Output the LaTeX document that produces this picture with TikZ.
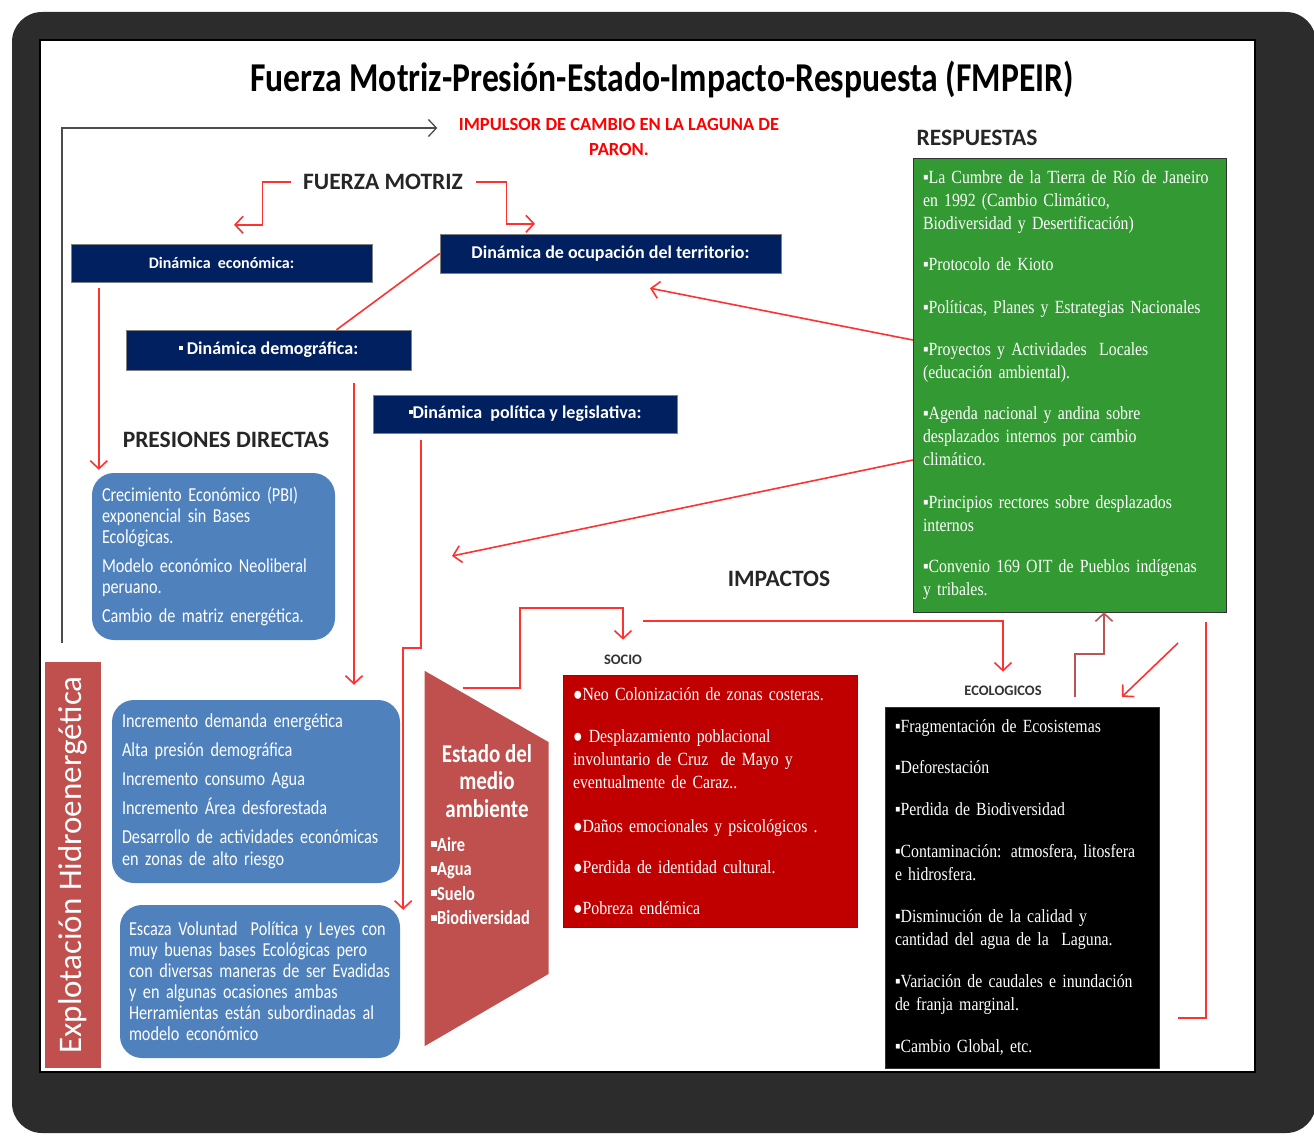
\documentclass[tikz,border=0pt]{standalone}
\usepackage{fontspec}
\usepackage{graphicx}
\setmainfont[FakeStretch=0.85]{Liberation Serif}
\newfontfamily\calib{Carlito}
\newfontfamily\calibn[FakeStretch=0.82]{Carlito}
\usetikzlibrary{arrows.meta}
\hyphenpenalty=10000
\exhyphenpenalty=10000

\definecolor{navy}{RGB}{0,32,96}
\definecolor{ofblue}{RGB}{79,129,189}
\definecolor{ofred}{RGB}{192,80,77}
\definecolor{socred}{RGB}{192,0,0}
\definecolor{resgreen}{RGB}{51,153,51}
\definecolor{linered}{RGB}{255,50,50}
\definecolor{linebrown}{RGB}{185,85,85}
\definecolor{framegray}{RGB}{44,44,44}

\newcommand{\sqb}{\rule[.2em]{.3em}{.3em}}
\newcommand{\dotb}{\rule[.25em]{.22em}{.22em}}

\tikzset{
	navybox/.style={fill=navy, draw=black!50, text=white, inner sep=0pt, font=\calib\bfseries\fontsize{18}{20}\selectfont},
	bluebox/.style={fill=ofblue, rounded corners=22pt, text=white, align=left, inner xsep=10pt, inner ysep=0pt, font=\calibn\fontsize{19.8}{21}\selectfont},
	serifbox/.style={draw=black!80, text=white, align=left, inner ysep=0pt, font=\fontsize{18.6}{23}\selectfont},
	heading/.style={text=black!85, font=\calib\bfseries\fontsize{23.5}{25}\selectfont},
	subhead/.style={text=black!80, font=\calib\bfseries\fontsize{14.5}{16}\selectfont},
	redline/.style={draw=linered, line width=1.6pt},
	redarrow/.style={redline, -{Straight Barb[length=8pt,width=17pt]}},
	brownarrow/.style={draw=linebrown, line width=1.6pt, -{Straight Barb[length=8pt,width=17pt]}},
	blackarrow/.style={draw=black!70, line width=1.3pt, -{Straight Barb[length=8pt,width=17pt]}},
}

\begin{document}
\begin{tikzpicture}[x=1pt,y=-1pt]
	\useasboundingbox (0,0) rectangle (1314,1137);
	\fill[framegray, rounded corners=30pt] (12,12) rectangle (1316,1133);
	\filldraw[fill=white, draw=black, line width=1.5pt] (40,40) rectangle (1255,1072);

	\node[font=\calibn\bfseries\fontsize{41}{44}\selectfont] (title) at (662,80) {Fuerza Motriz-Presión-Estado-Impacto-Respuesta (FMPEIR)};
	\node[text=red, align=center, font=\calib\bfseries\fontsize{18.5}{25}\selectfont] (impulsor) at (619,137) {IMPULSOR DE CAMBIO EN LA LAGUNA DE\\PARON.};

	\node[heading] (fm) at (383,182) {FUERZA MOTRIZ};
	\node[heading] (presdir) at (226,440) {PRESIONES DIRECTAS};
	\node[heading] (resp) at (977,138) {RESPUESTAS};
	\node[heading] (impact) at (779,579) {IMPACTOS};
	\node[subhead] (socio) at (623,660) {SOCIO};
	\node[subhead] (eco) at (1003,691) {ECOLOGICOS};

	\node[navybox, font=\calib\bfseries\fontsize{16}{18}\selectfont, minimum width=301pt, minimum height=38pt] (econ) at (221.5,263) {Dinámica\ \ económica:};
	\node[navybox, minimum width=341pt, minimum height=39pt] (ocup) at (610.5,253.5) {Dinámica de ocupación del territorio:};
	\node[navybox, minimum width=285pt, minimum height=40pt] (demo) at (268.5,350) {\dotb\ Dinámica demográfica:};
	\node[navybox, minimum width=304pt, minimum height=38pt] (poli) at (525,414) {\dotb Dinámica\ \ política y legislativa:};

	\node[bluebox, text width=223pt, minimum height=167pt] (pres1) at (213.5,556.5) {Crecimiento Económico (PBI)\\exponencial sin Bases\\Ecológicas.\\[8pt]Modelo económico Neoliberal\\peruano.\\[8pt]Cambio de matriz energética.};
	\node[bluebox, text width=268pt, minimum height=183pt, font=\calibn\fontsize{19.8}{22}\selectfont] (pres2) at (256,791.5) {Incremento demanda energética\\[7pt]Alta presión demográfica\\[7pt]Incremento consumo Agua\\[7pt]Incremento Área desforestada\\[7pt]Desarrollo de actividades económicas\\en zonas de alto riesgo};
	\node[bluebox, text width=262pt, inner xsep=9pt, minimum height=153pt] (pres3) at (260,981.5) {Escaza Voluntad\ \ Política\ y Leyes con\\muy buenas bases Ecológicas pero\\con diversas maneras de ser Evadidas\\y en algunas ocasiones ambas\\Herramientas están subordinadas al\\modelo económico};

	\node[fill=ofred, text=white, rotate=90, minimum width=406pt, minimum height=56pt, inner sep=0pt, font=\calib\fontsize{33}{35}\selectfont] (expl) at (72.5,865) {Explotación Hidroenergética};

	\filldraw[fill=ofred, draw=white, line width=3pt] (423,668) -- (550,741) -- (550,975) -- (423,1049) -- cycle;
	\node[text=white, align=center, font=\calibn\bfseries\fontsize{25.6}{27.5}\selectfont] (estado) at (487,781) {Estado del\\medio\\ambiente};
	\node[text=white, align=left, anchor=west, inner sep=0pt, font=\calibn\bfseries\fontsize{20}{24.5}\selectfont] (medios) at (431,881) {\sqb Aire\\\sqb Agua\\\sqb Suelo\\\sqb Biodiversidad};

	\node[serifbox, fill=socred, text width=274pt, inner xsep=10pt, minimum height=252pt] (sociobox) at (710,801) {●Neo Colonización de zonas costeras.\\[19pt]● Desplazamiento poblacional\\involuntario de Cruz\ \ de Mayo y\\eventualmente de Caraz..\\[21pt]●Daños emocionales y psicológicos\ .\\[18pt]●Perdida de identidad cultural.\\[18pt]●Pobreza endémica};
	\node[serifbox, fill=black, text width=254pt, inner xsep=10pt, minimum height=361pt] (ecobox) at (1022,887.5) {▪Fragmentación de Ecosistemas\\[18pt]▪Deforestación\\[19pt]▪Perdida de Biodiversidad\\[19pt]▪Contaminación: atmosfera, litosfera\\e hidrosfera.\\[19pt]▪Disminución de la calidad y\\cantidad del agua de la\ \ Laguna.\\[19pt]▪Variación de caudales e inundación\\de franja marginal.\\[19pt]▪Cambio Global, etc.};
	\node[serifbox, fill=resgreen, text width=293pt, inner xsep=10pt, minimum height=454pt] (respbox) at (1069.5,385) {▪La Cumbre de la Tierra de Río de Janeiro\\en 1992 (Cambio Climático,\\Biodiversidad y Desertificación)\\[18pt]▪Protocolo de Kioto\\[20pt]▪Políticas, Planes y Estrategias Nacionales\\[19pt]▪Proyectos y Actividades\ \ Locales\\(educación ambiental).\\[18pt]▪Agenda nacional y andina sobre\\desplazados internos por cambio\\climático.\\[20pt]▪Principios rectores sobre desplazados\\internos\\[18pt]▪Convenio 169 OIT de Pueblos indígenas\\y tribales.};

	\coordinate (econtip) at ([xshift=12.5pt,yshift=19pt]econ.north);
	\coordinate (ocuptip) at ([xshift=-75.5pt,yshift=10pt]ocup.north);
	\coordinate (econdrop) at ([xshift=28pt]econ.south west);
	\coordinate (demodrop) at ([xshift=85.5pt]demo.south);
	\coordinate (polidrop) at ([xshift=48pt]poli.south west);
	\coordinate (politip) at ([xshift=3pt,yshift=-5pt]pres3.north east);
	\coordinate (estadoedge) at (463,688);
	\coordinate (impactsplit) at (643,621);
	\coordinate (diagstart) at (1178,643);
	\coordinate (loopend) at (1178,1018);
	\coordinate (respdown) at (452,556);

	\draw[blackarrow, shorten <=19pt] ([xshift=-10.5pt]expl.east) |- ([xshift=-18pt,yshift=9pt]impulsor.west);
	\draw[redarrow, shorten <=9pt] (fm.west) -- ++(-37,0) |- (econtip);
	\draw[redarrow, shorten <=10pt] (fm.east) -- ++(40,0) |- (ocuptip);
	\draw[redline] (ocup.west) -- ([xshift=68pt]demo.north);
	\draw[redarrow, shorten <=6pt, shorten >=3pt] (econdrop) -- (econdrop |- pres1.north);
	\draw[redarrow, shorten <=13pt, shorten >=15pt] (demodrop) -- (demodrop |- pres2.north);
	\draw[redarrow, shorten <=7pt] (polidrop) -- ++(0,215) -| (politip);
	\draw[redarrow, shorten >=12pt] (estadoedge) -- ++(57,0) -- ++(0,-80) -| (socio.north);
	\draw[redarrow, shorten >=11pt] (impactsplit) -| (eco.north);
	\draw[brownarrow, shorten <=10pt] ([xshift=53pt]ecobox.north) -- ++(0,-53) -| ([xshift=34.5pt]respbox.south);
	\draw[redarrow] (diagstart) -- ([xshift=100pt,yshift=10pt]ecobox.north);
	\draw[redline] ([xshift=-20pt,yshift=-10pt]respbox.south east) |- (loopend);
	\draw[redarrow] ([yshift=45pt]respbox.west) -- ([xshift=39.5pt,yshift=-15pt]ocup.south);
	\draw[redarrow] ([yshift=-75pt]respbox.west) -- (respdown);
\end{tikzpicture}
\end{document}
